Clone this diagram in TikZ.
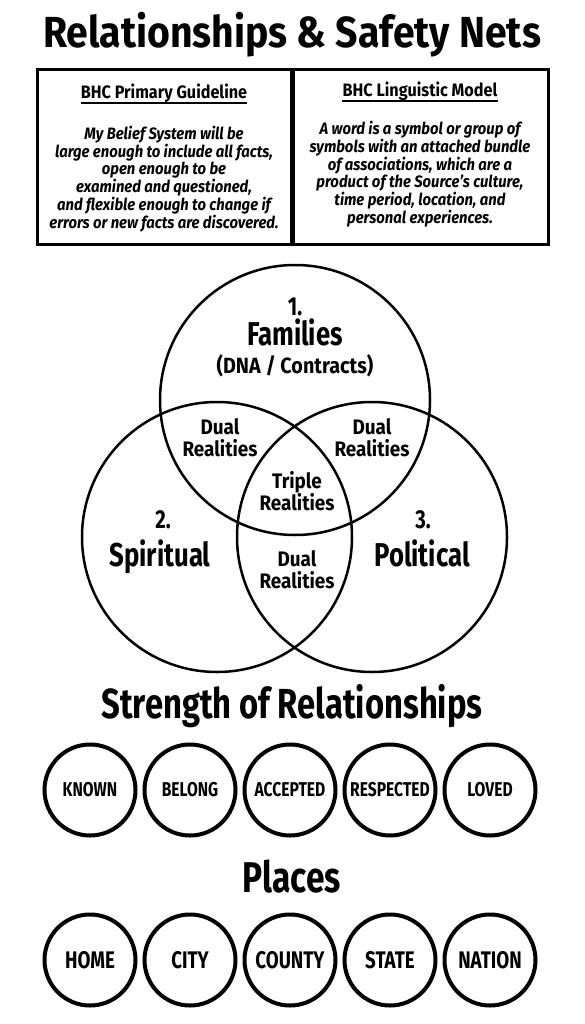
\documentclass[tikz,border=0pt]{standalone}
\usepackage{fontspec}
\setmainfont{Fira Sans}[FakeStretch=0.9]
\newfontfamily\narrowfam{Fira Sans}[FakeStretch=0.78]
\newcommand{\fsz}[1]{\fontsize{#1}{#1}\selectfont\bfseries}
\newcommand{\nsz}[1]{\narrowfam\fontsize{#1}{#1}\selectfont\bfseries}
\begin{document}
\begin{tikzpicture}[x=1pt,y=-1pt,
  txt/.style={inner sep=0pt, anchor=base, align=center},
  blk/.style={inner sep=0pt, align=center},
  box/.style={draw, line width=3pt, minimum width=254pt, minimum height=174pt, inner sep=0pt},
  vc/.style={draw, circle, line width=2.5pt, minimum size=270pt, inner sep=0pt},
  ring/.style={draw, circle, line width=4pt, minimum size=91pt, inner sep=0pt, font=\nsz{20}},
  ringb/.style={ring, font=\nsz{24}},
  body/.style={inner sep=0pt, anchor=north, align=center, font={\fontsize{16.5}{17}\selectfont\bfseries\itshape}},
  bodyr/.style={body, font={\fontsize{16.5}{16.6}\selectfont\bfseries\itshape}},
  head/.style={txt, font=\fsz{18}},
  dual/.style={blk, font={\fontsize{21}{22}\selectfont\bfseries}},
]
\useasboundingbox (0,0) rectangle (585,1024);
\fill[white] (0,0) rectangle (585,1024);

\node[txt, font=\fsz{43.5}] (title) at (292,48) {Relationships \& Safety Nets};

\node[box] (boxL) at (164,157) {};
\node[box, minimum width=255pt] (boxR) at (420.5,157) {};

\node[head] (hL) at (164,99) {BHC Primary Guideline};
\draw[line width=1.2pt] ([yshift=-4pt]hL.base west) -- ([yshift=-4pt]hL.base east);
\node[head] (hR) at (420,97) {BHC Linguistic Model};
\draw[line width=1.2pt] ([yshift=-4pt]hR.base west) -- ([yshift=-4pt]hR.base east);

\node[body] (bL) at (164,126) {My Belief System will be\\large enough to include all facts,\\open enough to be\\examined and questioned,\\and flexible enough to change if\\errors or new facts are discovered.};
\node[bodyr] (bR) at (420,121) {A word is a symbol or group of\\symbols with an attached bundle\\of associations, which are a\\product of the Source's culture,\\time period, location, and\\personal experiences.};

\node[vc] (fam) at (295,400) {};
\node[vc] (spi) at (217,537) {};
\node[vc] (pol) at (372,537) {};

\node[txt, font=\nsz{26}] (n1) at (295,315) {1.};
\node[txt, font=\nsz{33}] (famt) at (295,345) {Families};
\node[txt, font=\fsz{22}] (dna) at (295,373) {(DNA / Contracts)};

\node[dual] (d12) at (220,438) {Dual\\Realities};
\node[dual] (d13) at (372,438) {Dual\\Realities};
\node[dual] (t123) at (297,491) {Triple\\Realities};
\node[dual] (d23) at (297,570) {Dual\\Realities};

\node[txt, font=\nsz{26}] (n2) at (163,528) {2.};
\node[txt, font=\nsz{33}] (spit) at (160,566) {Spiritual};
\node[txt, font=\nsz{26}] (n3) at (423,528) {3.};
\node[txt, font=\nsz{33}] (polt) at (422,566) {Political};

\node[txt, font=\nsz{42}] (strength) at (292,718) {Strength of Relationships};
\node[ring] (known) at (90,790) {KNOWN};
\node[ring] (belong) at (190,790) {BELONG};
\node[ring] (accepted) at (290,790) {ACCEPTED};
\node[ring] (respected) at (390,790) {RESPECTED};
\node[ring] (loved) at (490,790) {LOVED};

\node[txt, font=\nsz{43}] (places) at (292,892) {Places};
\node[ringb] (home) at (90,960) {HOME};
\node[ringb] (city) at (190,960) {CITY};
\node[ringb] (county) at (290,960) {COUNTY};
\node[ringb] (state) at (390,960) {STATE};
\node[ringb] (nation) at (490,960) {NATION};
\end{tikzpicture}
\end{document}
